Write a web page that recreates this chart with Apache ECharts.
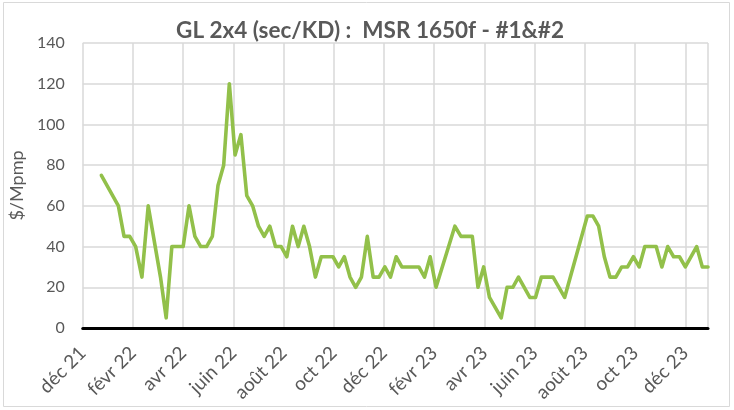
<!DOCTYPE html>
<html>
<head>
<meta charset="utf-8">
<script src="https://cdn.jsdelivr.net/npm/echarts@6/dist/echarts.min.js"></script>
<style>
html,body{margin:0;padding:0;background:#fff;}
#chart{width:734px;height:410px;}
</style>
</head>
<body>
<div id="chart"></div>
<script>
// Weekly price reports (only the turning points of the line are listed)
const dates = [
  '2021-12-24','2022-01-14','2022-01-21','2022-01-28','2022-02-04','2022-02-11','2022-02-18','2022-03-04','2022-03-11','2022-03-18',
  '2022-04-01','2022-04-08','2022-04-15','2022-04-22','2022-04-29','2022-05-06','2022-05-13','2022-05-20','2022-05-27','2022-06-03',
  '2022-06-10','2022-06-17','2022-06-24','2022-07-01','2022-07-08','2022-07-15','2022-07-22','2022-07-29','2022-08-05','2022-08-12',
  '2022-08-19','2022-08-26','2022-09-02','2022-09-09','2022-09-16','2022-09-30','2022-10-07','2022-10-14','2022-10-21','2022-10-28',
  '2022-11-04','2022-11-11','2022-11-18','2022-11-25','2022-12-02','2022-12-09','2022-12-16','2022-12-23','2023-01-13','2023-01-20',
  '2023-01-27','2023-02-03','2023-02-24','2023-03-03','2023-03-17','2023-03-24','2023-03-31','2023-04-07','2023-04-21','2023-04-28',
  '2023-05-05','2023-05-12','2023-05-26','2023-06-02','2023-06-09','2023-06-23','2023-06-30','2023-07-07','2023-08-04','2023-08-11',
  '2023-08-18','2023-08-25','2023-09-01','2023-09-08','2023-09-15','2023-09-22','2023-09-29','2023-10-06','2023-10-13','2023-10-27',
  '2023-11-03','2023-11-10','2023-11-17','2023-11-24','2023-12-01','2023-12-15','2023-12-22','2023-12-29'
];
const prices = [
  75,60,45,45,40,25,60,25,5,40,
  40,60,45,40,40,45,70,80,120,85,
  95,65,60,50,45,50,40,40,35,50,
  40,50,40,25,35,35,30,35,25,20,
  25,45,25,25,30,25,35,30,30,25,
  35,20,50,45,45,20,30,15,5,20,
  20,25,15,15,25,25,20,15,55,55,
  50,35,25,25,30,30,35,30,40,40,
  30,40,35,35,30,40,30,30
];
const tickLabels = ['déc 21','févr 22','avr 22','juin 22','août 22','oct 22','déc 22','févr 23','avr 23','juin 23','août 23','oct 23','déc 23'];
const yTicks = [0,20,40,60,80,100,120,140];
const titleText = 'GL 2x4 (sec/KD) :  MSR 1650f - #1&#2';
const yName = '$/Mpmp';

// position of a date measured in months from 1 Dec 2021
function monthPos(s){
  const p = s.split('-').map(Number);
  const dim = new Date(p[0], p[1], 0).getDate();
  return (p[0]-2021)*12 + (p[1]-12) + (p[2]-1)/dim;
}
const seriesData = dates.map((d,i)=>[monthPos(d), prices[i]]);
const xMax = monthPos(dates[dates.length-1]);

const chart = echarts.init(document.getElementById('chart'), null, {renderer:'canvas'});
const txt = '#595959';
const font = 'Lato, "Open Sans", sans-serif';
chart.setOption({
  animation:false,
  backgroundColor:'#fff',
  title:{
    text:titleText, left:365, top:14, textAlign:'center',
    textStyle:{color:txt, fontSize:22.5, fontWeight:'bold', fontFamily:font}
  },
  graphic:[{type:'rect', shape:{x:3.5,y:2.5,width:726,height:404}, style:{fill:'none', stroke:'#d9d9d9', lineWidth:1}, silent:true}],
  grid:{left:81, right:26, top:43, bottom:82, containLabel:false},
  xAxis:{
    type:'value', min:0, max:xMax, interval:2,
    axisLine:{show:true, onZero:false, lineStyle:{color:'#000', width:3}},
    axisTick:{show:false},
    splitLine:{show:true, lineStyle:{color:'#d9d9d9', width:1.5}},
    axisLabel:{
      rotate:45, margin:22, color:txt, fontSize:19, fontFamily:font,
      formatter:v=>{ const i=Math.round(v/2); return (Math.abs(v-2*i)<0.01 && tickLabels[i]) ? tickLabels[i] : ''; }
    }
  },
  yAxis:{
    type:'value', min:yTicks[0], max:yTicks[yTicks.length-1], interval:20,
    name:yName, nameLocation:'middle', nameGap:56, nameRotate:90,
    nameTextStyle:{color:txt, fontSize:18, fontFamily:font},
    axisLine:{show:false}, axisTick:{show:false},
    splitLine:{show:true, lineStyle:{color:'#d9d9d9', width:1.5}},
    axisLabel:{color:txt, fontSize:16, fontFamily:font, margin:18}
  },
  series:[{
    type:'line', data:seriesData, showSymbol:false, symbol:'none',
    lineStyle:{color:'#92c04a', width:3.6, join:'round', cap:'round'},
    z:3
  }]
});
</script>
</body>
</html>
